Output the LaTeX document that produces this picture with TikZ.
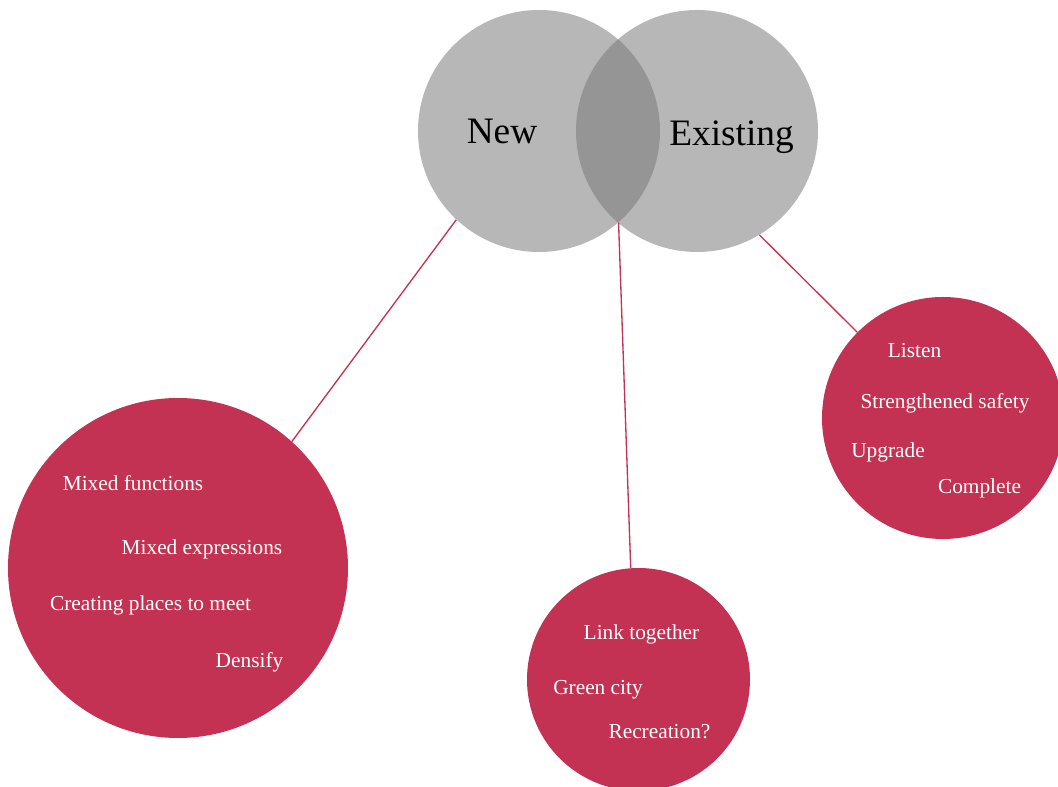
\documentclass[tikz,border=0pt]{standalone}
\usepackage{fontspec}
\setmainfont{Liberation Serif}
\definecolor{berry}{RGB}{195,50,82}
\definecolor{vgray}{RGB}{119,119,119}

\begin{document}
\begin{tikzpicture}[x=0.75pt,y=0.75pt,
    venn/.style ={circle, fill=vgray, fill opacity=0.53, inner sep=0pt, minimum size=181.5pt},
    theme/.style ={circle, fill=berry, inner sep=0pt},
    title/.style ={anchor=base, inner sep=0pt, font=\fontsize{28}{32}\selectfont},
    item/.style ={anchor=base, inner sep=0pt, text=white, font=\fontsize{16}{19}\selectfont},
    link/.style ={berry, line width=1pt}]
   \useasboundingbox (0,0) rectangle (1058,-787);

   \node[venn] (new)  at (539,-131)  {};
   \node[venn] (existing)  at (697,-131)  {};
   \node[theme, minimum size=255pt] (densify)  at (178,-568)  {};
   \node[theme, minimum size=167.25pt] (green)  at (638.5,-679.5)  {};
   \node[theme, minimum size=181.5pt] (upgrade)  at (943,-418)  {};

   \draw[link] (new.227) to (densify.48.5);
   \draw[link] (new.-49.3) to (green.94.4);
   \draw[link] (existing.-59.3) to (upgrade.135.7);

   \node[title] (tnew)  at (502,-144)  {New};
   \node[title] (texisting)  at (731.5,-145.5)  {Existing};

   \node[item] (a1)  at (133,-491)  {Mixed functions};
   \node[item] (a2)  at (202,-555)  {Mixed expressions};
   \node[item] (a3)  at (150.5,-611)  {Creating places to meet};
   \node[item] (a4)  at (249.5,-668)  {Densify};

   \node[item] (b1)  at (641.5,-640)  {Link together};
   \node[item] (b2)  at (598,-695)  {Green city};
   \node[item] (b3)  at (659.5,-739)  {Recreation?};

   \node[item] (c1)  at (914.5,-358)  {Listen};
   \node[item] (c2)  at (945,-409)  {Strengthened safety};
   \node[item] (c3)  at (888,-458)  {Upgrade};
   \node[item] (c4)  at (979.5,-494)  {Complete};
\end{tikzpicture}
\end{document}
